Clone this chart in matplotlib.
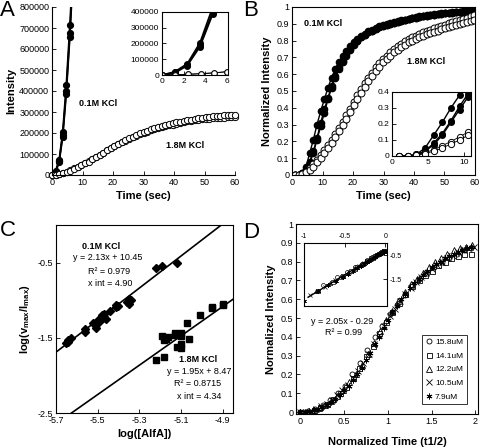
import numpy as np
import matplotlib
matplotlib.use("Agg")
import matplotlib.pyplot as plt
import matplotlib.ticker as mticker

plt.rcParams["font.family"] = ["Liberation Sans", "DejaVu Sans"]
plt.rcParams["mathtext.fontset"] = "custom"
plt.rcParams["mathtext.rm"] = "Liberation Sans"
plt.rcParams["mathtext.bf"] = "Liberation Sans:bold"
plt.rcParams["mathtext.it"] = "Liberation Sans:italic"

# ---- panel A: raw intensity ----
time_a_fast = [0.0, 1.17, 2.34, 3.51, 4.68, 5.85, 7.02]
fast_a_rep1 = [0, 12000, 60000, 180000, 385000, 655000, 980000]
fast_a_rep2 = [0, 16000, 66000, 192000, 400000, 675000, 1010000]
fast_a_rep3 = [0, 20000, 72000, 205000, 430000, 712000, 1050000]

time_a_slow = [0.0, 1.2, 2.4, 3.6, 4.8, 6.0, 7.2, 8.4, 9.6, 10.8,
               12.0, 13.2, 14.4, 15.6, 16.8, 18.0, 19.2, 20.4, 21.6, 22.8,
               24.0, 25.2, 26.4, 27.6, 28.8, 30.0, 31.2, 32.4, 33.6, 34.8,
               36.0, 37.2, 38.4, 39.6, 40.8, 42.0, 43.2, 44.4, 45.6, 46.8,
               48.0, 49.2, 50.4, 51.6, 52.8, 54.0, 55.2, 56.4, 57.6, 58.8, 60.0]
slow_a_rep1 = [0, 1000, 5000, 9000, 14000, 22000, 32000, 40000, 48000, 57000,
               67000, 76000, 86000, 96000, 107000, 118000, 128000, 138000, 147000, 156000,
               164000, 172000, 179000, 187000, 194000, 200000, 206000, 212000, 217000, 222000,
               227000, 231000, 236000, 240000, 244000, 248000, 251000, 255000, 258000, 261000,
               263000, 265000, 267000, 268000, 270000, 271000, 272000, 273000, 274000, 275000,
               276000]
slow_a_rep2 = [0, 1000, 4000, 8000, 13000, 20000, 29000, 37000, 46000, 55000,
               64000, 74000, 84000, 95000, 106000, 117000, 128000, 139000, 149000, 158000,
               167000, 175000, 183000, 191000, 198000, 205000, 211000, 217000, 223000, 228000,
               233000, 238000, 242000, 246000, 250000, 254000, 258000, 261000, 264000, 267000,
               270000, 273000, 275000, 277000, 279000, 281000, 283000, 284000, 285000, 286000,
               287000]

# ---- panel B: normalized intensity ----
time_b = [1.0, 2.2, 3.4, 4.6, 5.8, 7.0, 8.2, 9.4, 10.6, 11.8,
          13.0, 14.2, 15.4, 16.6, 17.8, 19.0, 20.2, 21.4, 22.6, 23.8,
          25.0, 26.2, 27.4, 28.6, 29.8, 31.0, 32.2, 33.4, 34.6, 35.8,
          37.0, 38.2, 39.4, 40.6, 41.8, 43.0, 44.2, 45.4, 46.6, 47.8,
          49.0, 50.2, 51.4, 52.6, 53.8, 55.0, 56.2, 57.4, 58.6, 59.8]
fast_b_rep1 = [0.0, 0.0, 0.01, 0.05, 0.13, 0.21, 0.30, 0.38, 0.45, 0.52,
               0.58, 0.63, 0.67, 0.71, 0.74, 0.77, 0.79, 0.81, 0.83, 0.84,
               0.855, 0.865, 0.875, 0.885, 0.89, 0.90, 0.905, 0.91, 0.915, 0.92,
               0.925, 0.93, 0.935, 0.94, 0.945, 0.948, 0.951, 0.954, 0.957, 0.96,
               0.962, 0.964, 0.966, 0.968, 0.97, 0.972, 0.974, 0.975, 0.977, 0.978]
fast_b_rep2 = [0.0, 0.0, 0.01, 0.03, 0.08, 0.14, 0.22, 0.31, 0.39, 0.46,
               0.53, 0.59, 0.64, 0.68, 0.72, 0.75, 0.78, 0.80, 0.82, 0.835,
               0.85, 0.86, 0.87, 0.88, 0.887, 0.895, 0.90, 0.907, 0.912, 0.918,
               0.923, 0.928, 0.933, 0.937, 0.941, 0.945, 0.949, 0.952, 0.955, 0.958,
               0.961, 0.963, 0.965, 0.967, 0.969, 0.971, 0.973, 0.974, 0.976, 0.977]
fast_b_rep3 = [0.0, 0.0, 0.005, 0.03, 0.07, 0.13, 0.21, 0.29, 0.37, 0.45,
               0.52, 0.58, 0.63, 0.67, 0.71, 0.745, 0.775, 0.80, 0.82, 0.835,
               0.85, 0.86, 0.87, 0.878, 0.886, 0.893, 0.90, 0.906, 0.912, 0.917,
               0.922, 0.927, 0.932, 0.936, 0.94, 0.944, 0.948, 0.951, 0.954, 0.957,
               0.96, 0.962, 0.964, 0.966, 0.968, 0.97, 0.972, 0.974, 0.976, 0.978]
slow_b_rep1 = [0.0, 0.0, 0.005, 0.02, 0.04, 0.065, 0.09, 0.12, 0.15, 0.18,
               0.21, 0.245, 0.28, 0.315, 0.355, 0.395, 0.435, 0.475, 0.51, 0.545,
               0.58, 0.61, 0.64, 0.665, 0.69, 0.71, 0.73, 0.75, 0.765, 0.78,
               0.795, 0.81, 0.82, 0.83, 0.84, 0.85, 0.858, 0.866, 0.874, 0.881,
               0.888, 0.895, 0.902, 0.909, 0.916, 0.923, 0.93, 0.937, 0.944, 0.951]
slow_b_rep2 = [0.0, 0.0, 0.004, 0.015, 0.03, 0.05, 0.075, 0.10, 0.13, 0.16,
               0.19, 0.225, 0.26, 0.295, 0.335, 0.375, 0.415, 0.455, 0.49, 0.525,
               0.56, 0.59, 0.62, 0.645, 0.67, 0.69, 0.71, 0.73, 0.745, 0.76,
               0.775, 0.79, 0.80, 0.81, 0.82, 0.83, 0.838, 0.846, 0.853, 0.86,
               0.867, 0.873, 0.879, 0.885, 0.891, 0.897, 0.903, 0.909, 0.915, 0.92]

# ---- panel C: log rate vs log concentration ----
c_fast_x = [-5.65, -5.64, -5.63, -5.64, -5.56, -5.56, -5.52, -5.51, -5.51, -5.50,
            -5.49, -5.47, -5.47, -5.46, -5.48, -5.44, -5.41, -5.41, -5.40, -5.36,
            -5.35, -5.34, -5.35, -5.22, -5.19, -5.12]
c_fast_y = [-1.57, -1.53, -1.50, -1.55, -1.38, -1.42, -1.30, -1.33, -1.37, -1.26,
            -1.28, -1.18, -1.22, -1.25, -1.20, -1.14, -1.06, -1.09, -1.08, -1.02,
            -1.05, -1.00, -0.98, -0.57, -0.54, -0.50]
c_slow_x = [-5.22, -5.18, -5.19, -5.18, -5.17, -5.16, -5.13, -5.13, -5.12, -5.10,
            -5.10, -5.10, -5.10, -5.06, -5.07, -5.01, -4.95, -4.95, -4.90, -4.90]
c_slow_y = [-1.79, -1.75, -1.48, -1.53, -1.52, -1.49, -1.44, -1.46, -1.62, -1.43,
            -1.47, -1.58, -1.64, -1.52, -1.30, -1.20, -1.09, -1.11, -1.05, -1.07]
fit_fast = (2.13, 10.45)
fit_slow = (1.95, 8.47)

# ---- panel D: normalized curves ----
d_labels = ["15.8uM", "14.1uM", "12.2uM", "10.5uM", "7.9uM"]
d1_x = [0.0, 0.085, 0.17, 0.255, 0.34, 0.425, 0.51, 0.595, 0.68, 0.765,
        0.85, 0.935, 1.02, 1.105, 1.19, 1.275, 1.36, 1.445, 1.53, 1.615,
        1.70, 1.785, 1.87, 1.955]
d1_y = [0.0, 0.005, 0.018, 0.038, 0.065, 0.10, 0.14, 0.20, 0.26, 0.33,
        0.40, 0.46, 0.52, 0.57, 0.62, 0.67, 0.71, 0.74, 0.77, 0.80,
        0.82, 0.84, 0.86, 0.87]
d2_x = [0.0, 0.075, 0.15, 0.225, 0.30, 0.375, 0.45, 0.525, 0.60, 0.675,
        0.75, 0.825, 0.90, 0.975, 1.05, 1.125, 1.20, 1.275, 1.35, 1.425,
        1.50, 1.575, 1.65, 1.725, 1.80, 1.875, 1.95]
d2_y = [0.0, 0.003, 0.01, 0.025, 0.045, 0.07, 0.10, 0.135, 0.18, 0.235,
        0.30, 0.35, 0.42, 0.48, 0.53, 0.58, 0.63, 0.67, 0.70, 0.73,
        0.75, 0.78, 0.80, 0.82, 0.83, 0.84, 0.84]
d3_x = [0.0, 0.07, 0.14, 0.21, 0.28, 0.35, 0.42, 0.49, 0.56, 0.63,
        0.70, 0.77, 0.84, 0.91, 0.98, 1.05, 1.12, 1.19, 1.26, 1.33,
        1.40, 1.47, 1.54, 1.61, 1.68, 1.75, 1.82, 1.89, 1.96]
d3_y = [0.0, 0.003, 0.01, 0.022, 0.04, 0.06, 0.085, 0.12, 0.16, 0.20,
        0.25, 0.31, 0.37, 0.43, 0.49, 0.54, 0.59, 0.64, 0.68, 0.71,
        0.74, 0.77, 0.80, 0.82, 0.84, 0.86, 0.87, 0.88, 0.89]
d4_x = [0.0, 0.06, 0.12, 0.18, 0.24, 0.30, 0.36, 0.42, 0.48, 0.54,
        0.60, 0.66, 0.72, 0.78, 0.84, 0.90, 0.96, 1.02, 1.08, 1.14,
        1.20, 1.26, 1.32, 1.38, 1.44, 1.50, 1.56, 1.62, 1.68, 1.74,
        1.80, 1.86, 1.92, 1.98]
d4_y = [0.0, 0.002, 0.007, 0.016, 0.03, 0.045, 0.065, 0.09, 0.115, 0.145,
        0.18, 0.22, 0.26, 0.31, 0.36, 0.41, 0.46, 0.51, 0.55, 0.59,
        0.63, 0.66, 0.69, 0.72, 0.74, 0.76, 0.78, 0.80, 0.82, 0.83,
        0.85, 0.86, 0.87, 0.88]
d5_x = [0.0, 0.05, 0.10, 0.15, 0.20, 0.25, 0.30, 0.35, 0.40, 0.45,
        0.50, 0.55, 0.60, 0.65, 0.70, 0.75, 0.80, 0.85, 0.90, 0.95,
        1.00, 1.05, 1.10, 1.15, 1.20, 1.25, 1.30, 1.35, 1.40, 1.45,
        1.50, 1.55, 1.60, 1.65, 1.70, 1.75, 1.80, 1.85, 1.90, 1.95]
d5_y = [0.0, 0.001, 0.004, 0.01, 0.018, 0.028, 0.04, 0.055, 0.072, 0.092,
        0.115, 0.14, 0.17, 0.2, 0.235, 0.275, 0.315, 0.36, 0.40, 0.445,
        0.49, 0.53, 0.565, 0.60, 0.63, 0.66, 0.685, 0.71, 0.73, 0.75,
        0.77, 0.79, 0.80, 0.82, 0.83, 0.84, 0.85, 0.86, 0.87, 0.88]
fit_d = (2.05, -0.29)

W, H = 480, 448


def box(left, top, right, bottom):
    return [left / W, 1 - bottom / H, (right - left) / W, (bottom - top) / H]


def ftext(x, y, s, **kw):
    fig.text(x / W, 1 - y / H, s, **kw)


def style(ax, size=6.5):
    ax.tick_params(direction="in", length=3, width=0.6, labelsize=size, pad=2)
    for sp in ax.spines.values():
        sp.set_linewidth(0.8)


gfmt = mticker.FuncFormatter(lambda v, p: f"{v:g}")
ifmt = mticker.FuncFormatter(lambda v, p: f"{v:.0f}")

fig = plt.figure(figsize=(4.8, 4.48), dpi=100)

# A
ax_a = fig.add_axes(box(52, 7, 235, 175))
ax_ai = fig.add_axes(box(162, 12, 228, 75))
for ax, ms_f, ms_o, clip in [(ax_a, 4.2, 4.5, False), (ax_ai, 4.0, 4.0, True)]:
    for rep in (fast_a_rep1, fast_a_rep2, fast_a_rep3):
        ax.plot(time_a_fast, rep, "-o", color="k", ms=ms_f, lw=1.2)
    for rep in (slow_a_rep1, slow_a_rep2):
        ax.plot(time_a_slow, rep, "-o", color="k", mfc="white", ms=ms_o, lw=0.6, mew=0.7,
                clip_on=clip)
ax_a.set_xlim(0, 60)
ax_a.set_ylim(0, 800000)
ax_a.set_xticks(range(0, 61, 10))
ax_a.set_yticks(range(0, 800001, 100000))
ax_a.yaxis.set_major_formatter(ifmt)
ax_a.spines["top"].set_visible(False)
ax_a.spines["right"].set_visible(False)
style(ax_a)
ax_a.set_xlabel("Time (sec)", fontsize=8, fontweight="bold", labelpad=3)
ax_a.set_ylabel("Intensity", fontsize=8, fontweight="bold", labelpad=2)
ax_ai.set_xlim(0, 6.1)
ax_ai.set_ylim(0, 400000)
ax_ai.set_xticks([0, 2, 4, 6])
ax_ai.set_yticks(range(0, 400001, 100000))
ax_ai.yaxis.set_major_formatter(ifmt)
style(ax_ai, 6)

# B
ax_b = fig.add_axes(box(292, 7, 475, 175))
ax_bi = fig.add_axes(box(392, 92, 471, 156))
for ax, ms in [(ax_b, 4.5), (ax_bi, 4.0)]:
    for rep in (fast_b_rep1, fast_b_rep2, fast_b_rep3):
        ax.plot(time_b, rep, "-o", color="k", ms=ms, lw=1.0)
    for rep in (slow_b_rep1, slow_b_rep2):
        ax.plot(time_b, rep, "-o", color="k", mfc="white", ms=ms + 0.5, lw=0.6, mew=0.7)
ax_b.set_xlim(0, 60)
ax_b.set_ylim(0, 1)
ax_b.set_xticks(range(0, 61, 10))
ax_b.set_yticks(np.linspace(0, 1, 11))
ax_b.yaxis.set_major_formatter(gfmt)
style(ax_b)
ax_b.set_xlabel("Time (sec)", fontsize=8, fontweight="bold", labelpad=3)
ax_b.set_ylabel("Normalized Intensity", fontsize=8, fontweight="bold", labelpad=3)
ax_bi.set_xlim(0, 11)
ax_bi.set_ylim(0, 0.4)
ax_bi.set_xticks([0, 5, 10])
ax_bi.set_yticks([0, 0.1, 0.2, 0.3, 0.4])
ax_bi.yaxis.set_major_formatter(gfmt)
style(ax_bi, 6)

# C
ax_c = fig.add_axes(box(56, 225, 233, 413))
ax_c.plot(c_fast_x, c_fast_y, "D", color="k", ms=3.8)
ax_c.plot(c_slow_x, c_slow_y, "s", color="k", ms=3.8)
xs = np.array([-5.7, -4.85])
ax_c.plot(xs, fit_fast[0] * xs + fit_fast[1], "k-", lw=1.2)
ax_c.plot(xs, fit_slow[0] * xs + fit_slow[1], "k-", lw=1.2)
ax_c.set_xlim(-5.7, -4.85)
ax_c.set_ylim(-2.5, 0)
ax_c.set_xticks([-5.7, -5.5, -5.3, -5.1, -4.9])
ax_c.set_yticks([-2.5, -1.5, -0.5])
ax_c.xaxis.set_major_formatter(gfmt)
ax_c.yaxis.set_major_formatter(gfmt)
style(ax_c)
ax_c.set_xlabel("log([AlfA])", fontsize=8, fontweight="bold", labelpad=3)
ax_c.set_ylabel(r"$\mathbf{log(v_{max}/I_{max})}$", fontsize=8, labelpad=4)

# D
ax_d = fig.add_axes(box(296, 224, 478, 414))
d_series = [(d1_x, d1_y, "o", 3.6), (d2_x, d2_y, "s", 3.6), (d3_x, d3_y, "^", 3.8),
            (d4_x, d4_y, "x", 3.8), (d5_x, d5_y, (6, 2, 0), 4.2)]
for (dx, dy, mk, ms), lab in zip(d_series, d_labels):
    ax_d.plot(dx, dy, linestyle="none", marker=mk, ms=ms, mfc="none", mec="k", mew=0.6, label=lab)
ax_d.set_xlim(-0.05, 2.03)
ax_d.set_ylim(-0.01, 1.0)
ax_d.set_xticks([0, 0.5, 1, 1.5, 2])
ax_d.set_yticks(np.linspace(0, 1, 11))
ax_d.xaxis.set_major_formatter(gfmt)
ax_d.yaxis.set_major_formatter(gfmt)
style(ax_d)
ax_d.set_xlabel("Normalized Time (t1/2)", fontsize=8, fontweight="bold", labelpad=8)
ax_d.set_ylabel("Normalized Intensity", fontsize=8, fontweight="bold", labelpad=3)
leg = ax_d.legend(loc="lower right", bbox_to_anchor=(0.96, 0.03), fontsize=6, frameon=True,
                  fancybox=False, edgecolor="k", handlelength=0.8, handletextpad=0.3,
                  labelspacing=0.7, borderpad=0.4)
leg.get_frame().set_linewidth(0.7)

ax_di = fig.add_axes(box(304, 243, 387, 306))
for dx, dy, mk, ms in d_series:
    lx, ly = [], []
    for xv, yv in zip(dx, dy):
        if 0.1 <= xv <= 1.0 and yv > 0:
            lx.append(np.log10(xv))
            ly.append(np.log10(yv))
    ax_di.plot(lx, ly, linestyle="none", marker=mk, ms=ms * 0.8, mfc="none", mec="k", mew=0.5)
lxs = np.array([-0.95, 0.0])
ax_di.plot(lxs, fit_d[0] * lxs + fit_d[1], "k-", lw=1.0)
ax_di.set_xlim(-1.0, 0.02)
ax_di.set_ylim(-2.6, 0)
ax_di.xaxis.tick_top()
ax_di.yaxis.tick_right()
ax_di.set_xticks([-1, -0.5, 0])
ax_di.set_yticks([-1.5, -0.5])
ax_di.xaxis.set_major_formatter(gfmt)
ax_di.yaxis.set_major_formatter(gfmt)
style(ax_di, 5)

# annotations
bold = dict(fontsize=6.5, fontweight="bold", ha="center", va="center")
reg = dict(fontsize=6.5, ha="center", va="center")
ftext(98, 103, "0.1M KCl", **bold)
ftext(185, 145, "1.8M KCl", **bold)
ftext(323, 24, "0.1M KCl", **bold)
ftext(426, 61, "1.8M KCl", **bold)
ftext(101, 246, "0.1M KCl", **bold)
ftext(108, 257, "y = 2.13x + 10.45", **reg)
ftext(109, 271, "R² = 0.979", **reg)
ftext(110, 283, "x int = 4.90", **reg)
ftext(198, 359, "1.8M KCl", **bold)
ftext(199, 371, "y = 1.95x + 8.47", **reg)
ftext(198, 383, "R² = 0.8715", **reg)
ftext(199, 396, "x int = 4.34", **reg)
ftext(342, 321, "y = 2.05x - 0.29", **reg)
ftext(344, 332, "R² = 0.99", **reg)

panel = dict(fontsize=16, va="top", ha="left")
ftext(0, 0, "A", **panel)
ftext(243, 0, "B", **panel)
ftext(0, 220, "C", **panel)
ftext(243, 222, "D", **panel)

fig.savefig("out.png", dpi=100)
